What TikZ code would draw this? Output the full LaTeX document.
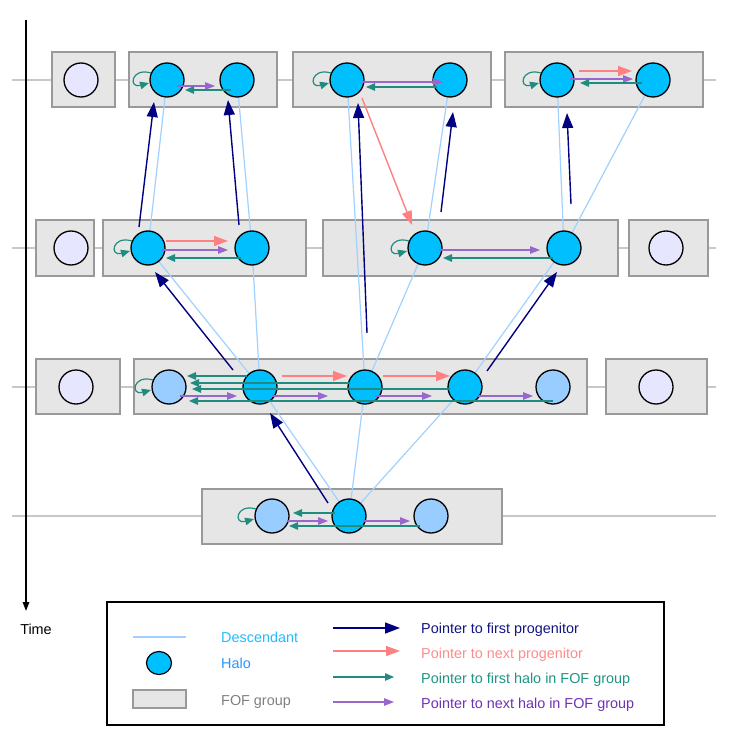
\documentclass[tikz,border=0pt]{standalone}
\usepackage{fontspec}
\setmainfont{Liberation Sans}
\usetikzlibrary{arrows.meta,shapes.geometric}
\definecolor{halocyan}{RGB}{0,191,255}
\definecolor{halolight}{RGB}{153,204,255}
\definecolor{lav}{RGB}{230,230,255}
\definecolor{fofgray}{RGB}{230,230,230}
\definecolor{fofborder}{RGB}{153,153,153}
\definecolor{gridc}{RGB}{200,200,200}
\definecolor{desccol}{RGB}{160,210,255}
\definecolor{navyc}{RGB}{0,0,128}
\definecolor{pinkc}{RGB}{255,128,128}
\definecolor{tealc}{RGB}{32,140,128}
\definecolor{purpc}{RGB}{153,102,204}
\definecolor{desctxt}{RGB}{30,190,255}
\definecolor{halotxt}{RGB}{40,150,255}
\definecolor{foftxt}{RGB}{128,128,128}
\definecolor{navytxt}{RGB}{20,20,130}
\definecolor{pinktxt}{RGB}{255,140,140}
\definecolor{tealtxt}{RGB}{30,150,130}
\definecolor{purptxt}{RGB}{110,50,180}
\pgfdeclarelayer{bg}
\pgfdeclarelayer{mid}
\pgfsetlayers{bg,mid,main}
\begin{document}
\begin{tikzpicture}[x=1pt,y=-1pt,
  fof/.style={draw=fofborder, fill=fofgray, line width=1.3pt, inner sep=0pt, outer sep=0pt, minimum height=55pt},
  halo/.style={circle, draw=black, line width=1.3pt, fill=halocyan, minimum size=34pt, inner sep=0pt, outer sep=0pt},
  newhalo/.style={halo, fill=halolight},
  isohalo/.style={halo, fill=lav},
  gridline/.style={draw=gridc, line width=1.2pt},
  desc/.style={draw=desccol, line width=1.2pt},
  firstprog/.style={draw=navyc, line width=1.4pt, -{Triangle[length=15pt,width=11pt]}},
  nextprog/.style={draw=pinkc, line width=1.4pt, -{Triangle[length=14pt,width=10pt]}},
  foffirst/.style={draw=tealc, line width=1.2pt, -{Triangle[length=9pt,width=7.5pt]}},
  fofnext/.style={draw=purpc, line width=1.2pt, -{Triangle[length=10pt,width=7.5pt]}},
  lbl/.style={anchor=base west, inner sep=0pt, font=\fontsize{14.4}{17}\selectfont}
]
\useasboundingbox (0,0) rectangle (728,743);

% ---------- background: grid lines, time axis, FOF groups
\begin{pgfonlayer}{bg}
\fill[white] (0,0) rectangle (728,743);
\draw[gridline] (12,80) -- (716,80);
\draw[gridline] (12,248) -- (716,248);
\draw[gridline] (12,387) -- (716,387);
\draw[gridline] (12,516) -- (716,516);
\coordinate (ttop) at (26,20);
\coordinate (tbot) at (26,611);
\draw[line width=1.5pt, -{Triangle[length=9pt,width=6.5pt]}] (ttop) -- (tbot);

\node[fof, minimum width=63pt] (boxA) at (83.5,79.5) {};
\node[fof, minimum width=148pt] (boxB) at (203,79.5) {};
\node[fof, minimum width=198pt] (boxC) at (392,79.5) {};
\node[fof, minimum width=198pt] (boxD) at (604,79.5) {};
\node[fof, minimum width=58pt, minimum height=56pt] (boxE) at (65,248) {};
\node[fof, minimum width=203pt, minimum height=56pt] (boxF) at (204.5,248) {};
\node[fof, minimum width=295pt, minimum height=56pt] (boxG) at (470.5,248) {};
\node[fof, minimum width=79pt, minimum height=56pt] (boxH) at (668.5,248) {};
\node[fof, minimum width=84pt] (boxI) at (78,386.5) {};
\node[fof, minimum width=453pt] (boxJ) at (360.5,386.5) {};
\node[fof, minimum width=101pt] (boxK) at (656.5,386.5) {};
\node[fof, minimum width=300pt] (boxL) at (352,516.5) {};
\end{pgfonlayer}

% ---------- halos
\node[isohalo] (A1) at (81,80) {};
\node[halo] (B1) at (167,80) {};
\node[halo] (B2) at (237,80) {};
\node[halo] (C1) at (347,80) {};
\node[halo] (C2) at (450,80) {};
\node[halo] (D1) at (557,80) {};
\node[halo] (D2) at (653,80) {};

\node[isohalo] (E1) at (71,248) {};
\node[halo] (F1) at (148,248) {};
\node[halo] (F2) at (252,248) {};
\node[halo] (G1) at (425,248) {};
\node[halo] (G2) at (564,248) {};
\node[isohalo] (H1) at (666,248) {};

\node[isohalo] (I1) at (76,387) {};
\node[newhalo] (J0) at (169,387) {};
\node[halo] (J1) at (260,387) {};
\node[halo] (J2) at (365,387) {};
\node[halo] (J3) at (465,387) {};
\node[newhalo] (J4) at (553,387) {};
\node[isohalo] (K1) at (656,387) {};

\node[newhalo] (L0) at (272,516) {};
\node[halo] (L1) at (349,516) {};
\node[newhalo] (L2) at (431,516) {};

% ---------- descendant lines (under the halos)
\begin{pgfonlayer}{mid}
\draw[desc] (B1.center) -- (F1.center);
\draw[desc] (B2.center) -- (F2.center);
\draw[desc] (C1.center) -- (J2.center);
\draw[desc] (C2.center) -- (G1.center);
\draw[desc] (D1.center) -- (G2.center);
\draw[desc] (D2.center) -- (G2.center);
\draw[desc] (F1.center) -- (J1.center);
\draw[desc] (F2.center) -- (J1.center);
\draw[desc] (G1.center) -- (J2.center);
\draw[desc] (G2.center) -- (J3.center);
\draw[desc] (J1.center) -- (L1.center);
\draw[desc] (J2.center) -- (L1.center);
\draw[desc] (J3.center) -- (L1.center);
\end{pgfonlayer}

% ---------- pointer to first progenitor
\draw[firstprog] ([shift={(-9,-21)}]F1.center) -- ([shift={(-13,22)}]B1.center);
\draw[firstprog] ([shift={(-13,-23)}]F2.center) -- ([shift={(-9,20)}]B2.center);
\draw[firstprog] ([shift={(-27,-17)}]J1.center) -- ([shift={(7,24)}]F1.center);
\draw[firstprog] ([shift={(2,-54)}]J2.center) -- ([shift={(11,23)}]C1.center);
\draw[firstprog] ([shift={(16,-36)}]G1.center) -- ([shift={(3,32)}]C2.center);
\draw[firstprog] ([shift={(7,-44)}]G2.center) -- ([shift={(10,33)}]D1.center);
\draw[firstprog] ([shift={(22,-16)}]J3.center) -- ([shift={(-7,24)}]G2.center);
\draw[firstprog] ([shift={(-21,-13)}]L1.center) -- ([shift={(10,26)}]J1.center);

% ---------- pointer to next progenitor
\draw[nextprog] ([shift={(18,-7)}]F1.center) -- ([shift={(-24,-7)}]F2.center);
\draw[nextprog] ([shift={(15,18)}]C1.center) -- ([shift={(-13,-23)}]G1.center);
\draw[nextprog] ([shift={(22,-9)}]D1.center) -- ([shift={(-21,-9)}]D2.center);
\draw[nextprog] ([shift={(22,-11)}]J1.center) -- ([shift={(-18,-11)}]J2.center);
\draw[nextprog] ([shift={(18,-11)}]J2.center) -- ([shift={(-15,-11)}]J3.center);

% ---------- pointer to next halo in FOF group
\draw[fofnext] ([shift={(10,6)}]B1.center) -- ([shift={(-22,6)}]B2.center);
\draw[fofnext] ([shift={(15,2)}]C1.center) -- ([shift={(-7,2)}]C2.center);
\draw[fofnext] ([shift={(13,-1)}]D1.center) -- ([shift={(-20,-1)}]D2.center);
\draw[fofnext] ([shift={(14,2)}]F1.center) -- ([shift={(-24,2)}]F2.center);
\draw[fofnext] ([shift={(14,2)}]G1.center) -- ([shift={(-24,2)}]G2.center);
\draw[fofnext] ([shift={(11,9)}]J0.center) -- ([shift={(-23,9)}]J1.center);
\draw[fofnext] ([shift={(12,9)}]J1.center) -- ([shift={(-37,9)}]J2.center);
\draw[fofnext] ([shift={(10,9)}]J2.center) -- ([shift={(-33,9)}]J3.center);
\draw[fofnext] ([shift={(12,9)}]J3.center) -- ([shift={(-20,9)}]J4.center);
\draw[fofnext] ([shift={(15,5)}]L0.center) -- ([shift={(-21,5)}]L1.center);
\draw[fofnext] ([shift={(14,5)}]L1.center) -- ([shift={(-21,5)}]L2.center);

% ---------- pointer to first halo in FOF group
\draw[foffirst] ([shift={(-6,10)}]B2.center) -- ([shift={(18,10)}]B1.center);
\draw[foffirst] ([shift={(-13,7)}]C2.center) -- ([shift={(19,7)}]C1.center);
\draw[foffirst] ([shift={(-11,3)}]D2.center) -- ([shift={(23,3)}]D1.center);
\draw[foffirst] ([shift={(-11,10)}]F2.center) -- ([shift={(18,10)}]F1.center);
\draw[foffirst] ([shift={(-11,10)}]G2.center) -- ([shift={(18,10)}]G1.center);
\draw[foffirst] ([shift={(-13,-11)}]J1.center) -- ([shift={(18,-11)}]J0.center);
\draw[foffirst] ([shift={(-15,-4)}]J2.center) -- ([shift={(21,-4)}]J0.center);
\draw[foffirst] ([shift={(-15,2)}]J3.center) -- ([shift={(23,2)}]J0.center);
\draw[foffirst] ([shift={(0,14)}]J4.center) -- ([shift={(20,14)}]J0.center);
\draw[foffirst] ([shift={(-14,-3)}]L1.center) -- ([shift={(21,-3)}]L0.center);
\draw[foffirst] ([shift={(-11,10)}]L2.center) -- ([shift={(17,10)}]L0.center);
\foreach \h in {B1,C1,D1,F1,G1,J0,L0} {
  \draw[foffirst] ([shift={(-16,-7)}]\h.center) .. controls ([shift={(-36,-13)}]\h.center) and ([shift={(-39,9)}]\h.center) .. ([shift={(-18,3)}]\h.center);
}

% ---------- time label
\node[anchor=base, inner sep=0pt, font=\fontsize{14.4}{17}\selectfont] (timelbl) at (36,634) {Time};

% ---------- legend
\node[draw=black, line width=1.3pt, fill=white, minimum width=557pt, minimum height=123pt, inner sep=0pt] (legend) at (385.5,663.5) {};
\coordinate (ld1) at (133,637);
\coordinate (ld2) at (186,637);
\draw[desc] (ld1) -- (ld2);
\node[lbl, text=desctxt] (tdesc) at (221,642) {Descendant};
\node[ellipse, draw=black, line width=1.2pt, fill=halocyan, minimum width=25pt, minimum height=23pt, inner sep=0pt] (lhalo) at (159,663) {};
\node[lbl, text=halotxt] (thalo) at (221,668) {Halo};
\node[fof, minimum width=53pt, minimum height=18pt] (lfof) at (159.5,699) {};
\node[lbl, text=foftxt] (tfof) at (221,705) {FOF group};

\coordinate (la1) at (333,628); \coordinate (lb1) at (400,628);
\coordinate (la2) at (333,651); \coordinate (lb2) at (400,651);
\coordinate (la3) at (333,677); \coordinate (lb3) at (394,677);
\coordinate (la4) at (333,702); \coordinate (lb4) at (394,702);
\draw[firstprog] (la1) -- (lb1);
\draw[nextprog] (la2) -- (lb2);
\draw[foffirst] (la3) -- (lb3);
\draw[fofnext] (la4) -- (lb4);
\node[lbl, text=navytxt] (t1) at (421,633) {Pointer to first progenitor};
\node[lbl, text=pinktxt] (t2) at (421,658) {Pointer to next progenitor};
\node[lbl, text=tealtxt] (t3) at (421,683) {Pointer to first halo in FOF group};
\node[lbl, text=purptxt] (t4) at (421,708) {Pointer to next halo in FOF group};
\end{tikzpicture}
\end{document}
